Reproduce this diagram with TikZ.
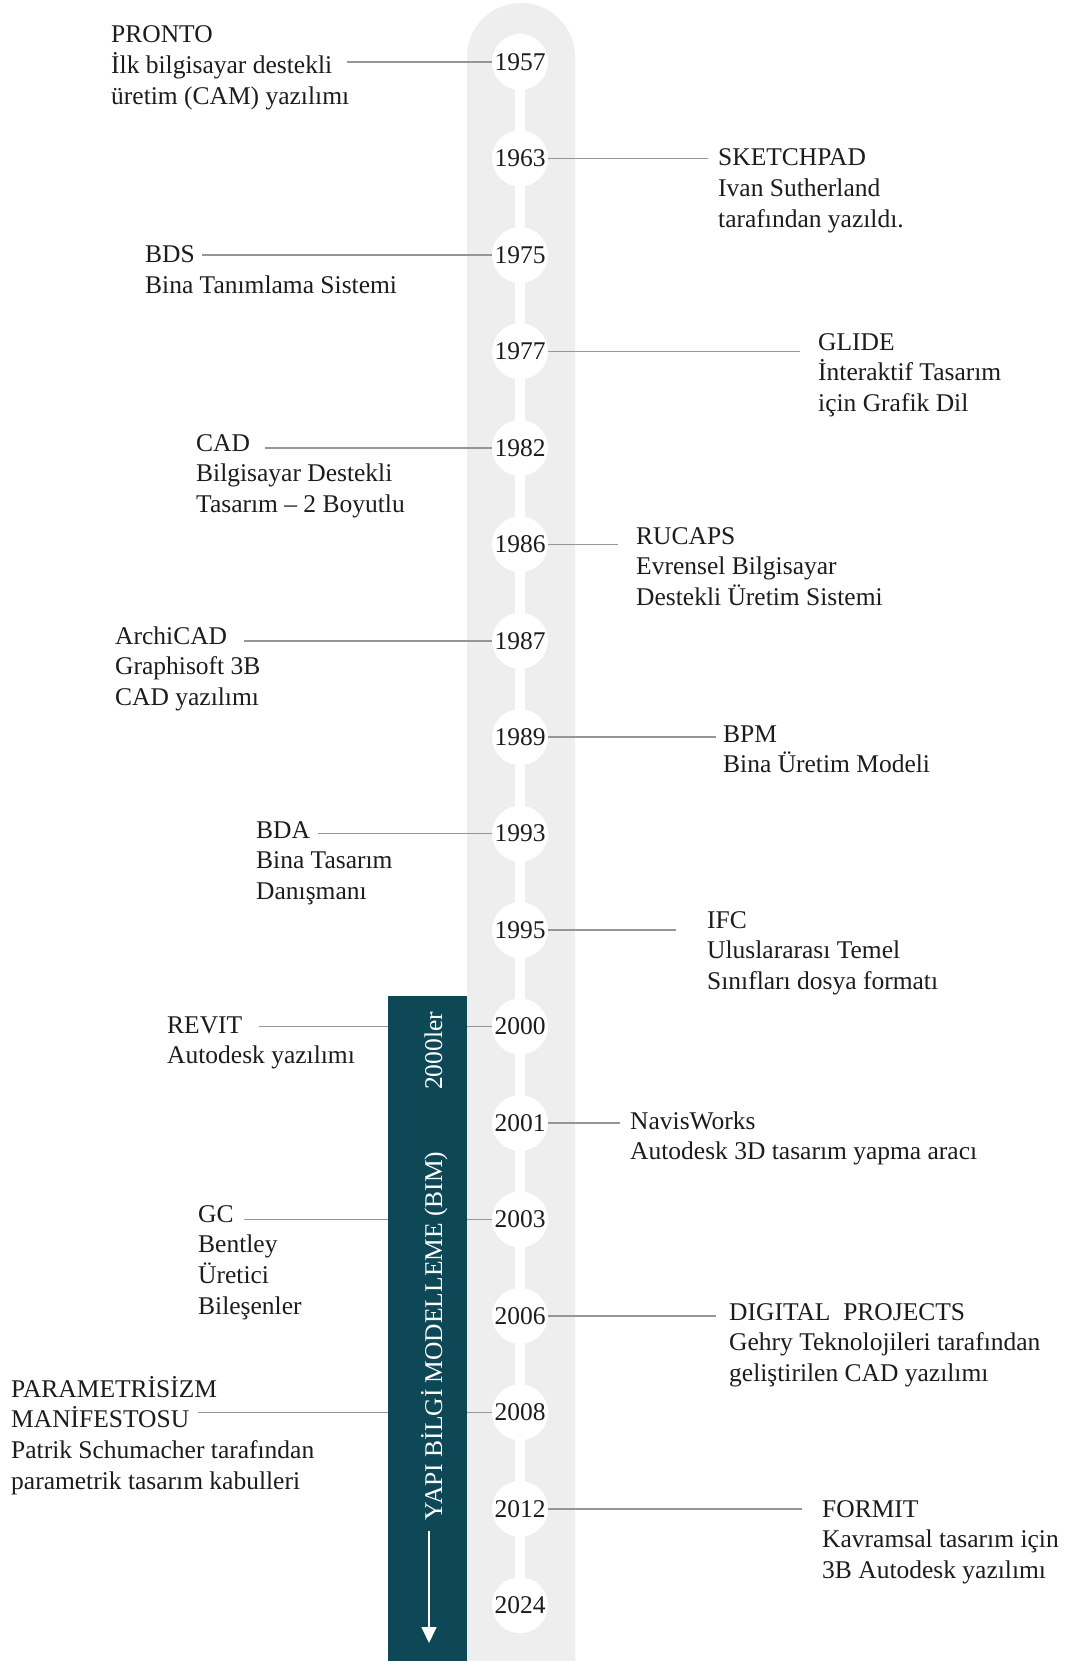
\documentclass[tikz,border=0pt]{standalone}
\usepackage{fontspec}
\setmainfont{Liberation Serif}
\usetikzlibrary{arrows.meta}
\definecolor{trackgray}{RGB}{238,238,238}
\definecolor{bimteal}{RGB}{14,72,87}
\definecolor{conn}{RGB}{150,150,150}
\definecolor{txt}{RGB}{28,28,28}
\newcommand\blk[1]{\begin{tabular}[t]{@{}l@{}}#1\end{tabular}}
\begin{document}
\begin{tikzpicture}[x=1pt,y=-1pt,
  yearc/.style={circle, fill=white, minimum size=56pt, inner sep=0pt, text=txt, font=\fontsize{25.5}{30.7}\selectfont},
  desc/.style={anchor=base west, inner sep=0pt, text=txt, font=\fontsize{25.5}{30.7}\selectfont},
  conline/.style={draw=conn, line width=1.6pt},
  bimtext/.style={rotate=90, anchor=base, inner sep=0pt, text=white, font=\fontsize{25.5}{30.7}\selectfont}]
\useasboundingbox (0,0) rectangle (1067,1661);
\fill[white] (0,0) rectangle (1067,1661);
% track
\fill[trackgray, rounded corners=54pt] (467,1760) rectangle (575,3);
% white spine
\coordinate (spinetop) at (520,62);
\coordinate (spinebot) at (520,1605);
\draw[white, line width=10pt] (spinetop) -- (spinebot);

% connector free ends
\coordinate (c1957) at (347,62);
\coordinate (c1963) at (708,158.5);
\coordinate (c1975) at (202,254.9);
\coordinate (c1977) at (800,351.4);
\coordinate (c1982) at (265,447.8);
\coordinate (c1986) at (618,544.3);
\coordinate (c1987) at (244,640.7);
\coordinate (c1989) at (716,737.2);
\coordinate (c1993) at (318,833.6);
\coordinate (c1995) at (676,930.1);
\coordinate (c2000) at (259,1026.5);
\coordinate (c2001) at (620,1123);
\coordinate (c2003) at (244,1219.4);
\coordinate (c2006) at (716,1315.9);
\coordinate (c2008) at (198,1412.3);
\coordinate (c2012) at (802,1508.8);

% year circles
\node[yearc] (y1957) at (520,62) {1957};
\node[yearc] (y1963) at (520,158.5) {1963};
\node[yearc] (y1975) at (520,254.9) {1975};
\node[yearc] (y1977) at (520,351.4) {1977};
\node[yearc] (y1982) at (520,447.8) {1982};
\node[yearc] (y1986) at (520,544.3) {1986};
\node[yearc] (y1987) at (520,640.7) {1987};
\node[yearc] (y1989) at (520,737.2) {1989};
\node[yearc] (y1993) at (520,833.6) {1993};
\node[yearc] (y1995) at (520,930.1) {1995};
\node[yearc] (y2000) at (520,1026.5) {2000};
\node[yearc] (y2001) at (520,1123) {2001};
\node[yearc] (y2003) at (520,1219.4) {2003};
\node[yearc] (y2006) at (520,1315.9) {2006};
\node[yearc] (y2008) at (520,1412.3) {2008};
\node[yearc] (y2012) at (520,1508.8) {2012};
\node[yearc] (y2024) at (520,1605.2) {2024};

% connectors
\foreach \yr in {1957,1963,1975,1977,1982,1986,1987,1989,1993,1995,2000,2001,2003,2006,2008,2012}
  \draw[conline] (c\yr) -- (y\yr);

% BIM box
\node[fill=bimteal, minimum width=79pt, minimum height=665pt, inner sep=0pt, anchor=north west] (bimbox) at (388,996) {};
\node[bimtext] (bimlabel) at (442,1336) {YAPI BİLGİ MODELLEME (BIM)};
\node[bimtext] (bimdecade) at (442,1051) {2000ler};
\coordinate (arrstart) at (429,1531);
\coordinate (arrend) at (429,1643);
\draw[white, line width=1.6pt, -{Triangle[width=15pt,length=16pt]}] (arrstart) -- (arrend);

% descriptions
\node[desc] (t1957) at (111,43) {\blk{PRONTO\\İlk bilgisayar destekli\\üretim (CAM) yazılımı}};
\node[desc] (t1963) at (718,166) {\blk{SKETCHPAD\\Ivan Sutherland\\tarafından yazıldı.}};
\node[desc] (t1975) at (145,263) {\blk{BDS\\Bina Tanımlama Sistemi}};
\node[desc] (t1977) at (818,350) {\blk{GLIDE\\İnteraktif Tasarım\\için Grafik Dil}};
\node[desc] (t1982) at (196,451) {\blk{CAD\\Bilgisayar Destekli\\Tasarım – 2 Boyutlu}};
\node[desc] (t1986) at (636,544) {\blk{RUCAPS\\Evrensel Bilgisayar\\Destekli Üretim Sistemi}};
\node[desc] (t1987) at (115,644) {\blk{ArchiCAD\\Graphisoft 3B\\CAD yazılımı}};
\node[desc] (t1989) at (723,742) {\blk{BPM\\Bina Üretim Modeli}};
\node[desc] (t1993) at (256,838) {\blk{BDA\\Bina Tasarım\\Danışmanı}};
\node[desc] (t1995) at (707,928) {\blk{IFC\\Uluslararası Temel\\Sınıfları dosya formatı}};
\node[desc] (t2000) at (167,1033) {\blk{REVIT\\Autodesk yazılımı}};
\node[desc] (t2001) at (630,1129) {\blk{NavisWorks\\Autodesk 3D tasarım yapma aracı}};
\node[desc] (t2003) at (198,1222) {\blk{GC\\Bentley\\Üretici\\Bileşenler}};
\node[desc] (t2006) at (729,1320) {\blk{DIGITAL~~PROJECTS\\Gehry Teknolojileri tarafından\\geliştirilen CAD yazılımı}};
\node[desc] (t2008) at (11,1397) {\blk{PARAMETRİSİZM\\MANİFESTOSU\\Patrik Schumacher tarafından\\parametrik tasarım kabulleri}};
\node[desc] (t2012) at (822,1517) {\blk{FORMIT\\Kavramsal tasarım için\\3B Autodesk yazılımı}};
\end{tikzpicture}
\end{document}
